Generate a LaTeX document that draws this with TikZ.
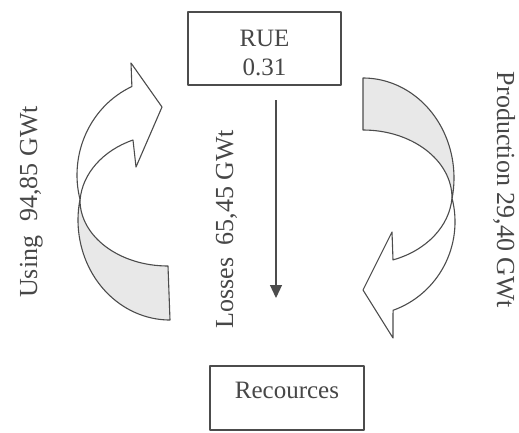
\documentclass[tikz,border=0pt]{standalone}
\usepackage{fontspec}
\setmainfont{Liberation Serif}
\usetikzlibrary{arrows.meta}
\begin{document}
\begin{tikzpicture}[x=1pt,y=-1pt,
  ln/.style={draw=black!70, line width=1.1pt, line join=round},
  band/.style={ln, fill=black!9},
  front/.style={ln, fill=white},
  boxtext/.style={font=\fontsize{25}{29}\selectfont, text=black!72, inner sep=0pt},
  lbl/.style={font=\fontsize{26}{30}\selectfont, text=black!72, inner sep=0pt},
]
\fill[white] (0,0) rectangle (519,432);
\useasboundingbox (0,0) rectangle (519,432);

% boxes
\node[ln, inner sep=0pt, minimum width=153pt, minimum height=73pt] (rue) at (264.5,48.5) {};
\node[boxtext, anchor=base] (ruet) at (264.5,46) {RUE};
\node[boxtext, anchor=base] (ruev) at (264.5,75) {0.31};
\node[ln, boxtext, minimum width=154pt, minimum height=64pt, text height=16pt, text depth=16pt]
  (res) at (287,398) {Recources};

% losses arrow
\coordinate (ls) at (276,100);
\coordinate (le) at (276,298);
\draw[ln, -{Triangle[length=13pt,width=12pt]}] (ls) -- (le);

% left curved arrow (Using)
\draw[band] (170,320) arc[start angle=90, end angle=191.5, x radius=92, y radius=100]
  -- (80,200) arc[start angle=180, end angle=90, x radius=88, y radius=66] -- cycle;
\draw[front] (80.15,200) arc[start angle=165.07, end angle=245.8, x radius=93, y radius=97]
  -- (131,63) -- (162,107) -- (136,167) -- (133,140)
  arc[start angle=246.6, end angle=184, x radius=88.2, y radius=70.8] -- cycle;

% right curved arrow (Production)
\draw[band] (363,78) arc[start angle=270, end angle=371.5, x radius=91, y radius=100]
  -- (452,198) arc[start angle=0, end angle=-90, x radius=89, y radius=68] -- cycle;
\draw[front] (452,198) arc[start angle=345.4, end angle=430.5, x radius=93, y radius=94]
  -- (393,338) -- (363,290) -- (392,232) -- (393,259.9)
  arc[start angle=70.8, end angle=4, x radius=88.2, y radius=70.8] -- cycle;

% labels
\node[lbl, rotate=90, anchor=base] (using) at (37,202) {Using\hspace{14pt}94,85 GWt};
\node[lbl, rotate=90, anchor=base] (loss) at (233,229) {Losses\hspace{12pt}65,45 GWt};
\node[lbl, rotate=-90, anchor=base] (prod) at (497,190) {Production 29,40 GWt};
\end{tikzpicture}
\end{document}
